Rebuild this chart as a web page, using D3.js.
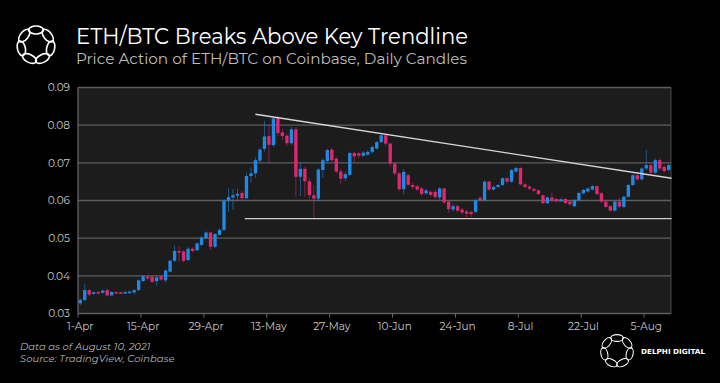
<!DOCTYPE html>
<html><head><meta charset="utf-8">
<script src="https://cdn.jsdelivr.net/npm/d3@7"></script>
<style>
html,body{margin:0;padding:0;background:#000;}
svg{display:block;}
</style></head>
<body>
<svg id="chart" width="720" height="383"></svg>
<script>
// ---------- DATA ----------
const startDate = "2021-04-01";
const endDate = "2021-08-10";
const opens = [0.0327,0.0336,0.0362,0.0352,0.0357,0.0355,0.0362,0.0348,0.0357,0.0356,0.0354,0.0355,0.0356,0.0362,0.0386,0.0398,0.0398,0.0386,0.0399,0.0388,0.0411,0.0440,0.0466,0.0465,0.0442,0.0472,0.0468,0.0482,0.0500,0.0515,
0.0477,0.0509,0.0522,0.0600,0.0608,0.0613,0.0620,0.0606,0.0665,0.0672,0.0706,0.0737,0.0771,0.0747,0.0820,0.0781,0.0772,0.0752,0.0789,0.0663,0.0684,0.0651,0.0614,0.0605,0.0681,0.0705,0.0735,0.0711,0.0677,0.0659,0.0668,
0.0726,0.0725,0.0719,0.0722,0.0729,0.0738,0.0755,0.0773,0.0751,0.0698,0.0672,0.0630,0.0667,0.0641,0.0638,0.0632,0.0619,0.0623,0.0623,0.0608,0.0632,0.0597,0.0576,0.0585,0.0576,0.0571,0.0569,0.0570,0.0607,0.0601,
0.0650,0.0629,0.0636,0.0641,0.0659,0.0650,0.0677,0.0686,0.0643,0.0637,0.0631,0.0627,0.0614,0.0593,0.0608,0.0604,0.0598,0.0604,0.0597,0.0585,0.0601,0.0619,0.0624,0.0629,0.0638,0.0619,0.0597,0.0585,0.0573,0.0597,0.0583,
0.0610,0.0641,0.0667,0.0656,0.0685,0.0694,0.0674,0.0707,0.0689,0.0681];
const closes = [0.0336,0.0362,0.0350,0.0356,0.0354,0.0361,0.0348,0.0357,0.0354,0.0354,0.0357,0.0358,0.0362,0.0388,0.0399,0.0393,0.0384,0.0396,0.0390,0.0414,0.0440,0.0466,0.0463,0.0440,0.0472,0.0466,0.0486,0.0502,0.0515,0.0477,
0.0511,0.0522,0.0600,0.0609,0.0614,0.0618,0.0606,0.0665,0.0672,0.0707,0.0735,0.0770,0.0748,0.0818,0.0779,0.0771,0.0752,0.0789,0.0663,0.0684,0.0651,0.0614,0.0605,0.0682,0.0707,0.0734,0.0707,0.0677,0.0658,0.0670,0.0726,
0.0717,0.0719,0.0727,0.0729,0.0742,0.0755,0.0773,0.0751,0.0698,0.0672,0.0630,0.0676,0.0642,0.0636,0.0629,0.0617,0.0627,0.0615,0.0609,0.0632,0.0595,0.0577,0.0585,0.0573,0.0568,0.0565,0.0564,0.0601,0.0601,0.0650,
0.0629,0.0636,0.0641,0.0659,0.0650,0.0681,0.0686,0.0643,0.0636,0.0631,0.0626,0.0617,0.0593,0.0608,0.0600,0.0598,0.0603,0.0593,0.0590,0.0601,0.0620,0.0628,0.0632,0.0638,0.0617,0.0597,0.0583,0.0573,0.0597,0.0584,0.0610,
0.0641,0.0667,0.0656,0.0685,0.0694,0.0674,0.0707,0.0685,0.0678,0.0694];
const highs = [0.0340,0.0378,0.0366,0.0359,0.0360,0.0364,0.0365,0.0359,0.0359,0.0358,0.0359,0.0361,0.0365,0.0391,0.0402,0.0401,0.0400,0.0400,0.0402,0.0417,0.0443,0.0481,0.0478,0.0468,0.0476,0.0476,0.0489,0.0505,0.0518,0.0518,
0.0514,0.0526,0.0604,0.0632,0.0630,0.0632,0.0625,0.0674,0.0688,0.0715,0.0740,0.0812,0.0800,0.0822,0.0825,0.0790,0.0778,0.0795,0.0795,0.0700,0.0690,0.0660,0.0640,0.0686,0.0712,0.0738,0.0740,0.0716,0.0684,0.0676,0.0730,
0.0730,0.0729,0.0731,0.0733,0.0746,0.0758,0.0778,0.0776,0.0753,0.0702,0.0676,0.0684,0.0672,0.0648,0.0642,0.0636,0.0631,0.0627,0.0628,0.0636,0.0635,0.0600,0.0592,0.0590,0.0580,0.0575,0.0573,0.0604,0.0612,0.0653,
0.0653,0.0640,0.0644,0.0662,0.0662,0.0684,0.0690,0.0688,0.0646,0.0640,0.0634,0.0630,0.0616,0.0611,0.0620,0.0607,0.0606,0.0607,0.0600,0.0604,0.0623,0.0631,0.0635,0.0641,0.0640,0.0622,0.0600,0.0588,0.0600,0.0606,0.0613,
0.0644,0.0670,0.0671,0.0688,0.0734,0.0700,0.0712,0.0712,0.0693,0.0698];
const lows = [0.0322,0.0333,0.0346,0.0350,0.0351,0.0353,0.0345,0.0346,0.0352,0.0352,0.0352,0.0353,0.0350,0.0360,0.0384,0.0389,0.0381,0.0373,0.0386,0.0383,0.0409,0.0436,0.0437,0.0436,0.0438,0.0462,0.0465,0.0479,0.0497,0.0470,
0.0474,0.0506,0.0518,0.0570,0.0575,0.0598,0.0600,0.0603,0.0648,0.0660,0.0700,0.0730,0.0700,0.0742,0.0770,0.0760,0.0745,0.0748,0.0610,0.0612,0.0610,0.0605,0.0553,0.0598,0.0660,0.0700,0.0702,0.0672,0.0645,0.0652,0.0665,
0.0700,0.0712,0.0716,0.0718,0.0724,0.0735,0.0752,0.0745,0.0690,0.0666,0.0625,0.0615,0.0638,0.0630,0.0625,0.0612,0.0615,0.0610,0.0604,0.0600,0.0590,0.0568,0.0570,0.0568,0.0562,0.0555,0.0556,0.0566,0.0598,0.0598,
0.0625,0.0626,0.0633,0.0638,0.0646,0.0647,0.0674,0.0640,0.0632,0.0628,0.0623,0.0614,0.0590,0.0590,0.0597,0.0595,0.0596,0.0590,0.0586,0.0582,0.0598,0.0616,0.0621,0.0626,0.0614,0.0593,0.0580,0.0570,0.0570,0.0580,0.0580,
0.0607,0.0638,0.0652,0.0653,0.0680,0.0670,0.0670,0.0680,0.0674,0.0677];
const yTicks = [0.03,0.04,0.05,0.06,0.07,0.08,0.09];
const xTickDates = ["2021-04-01","2021-04-15","2021-04-29","2021-05-13","2021-05-27","2021-06-10","2021-06-24","2021-07-08","2021-07-22","2021-08-05"];
const xTickLabels = ["1-Apr","15-Apr","29-Apr","13-May","27-May","10-Jun","24-Jun","8-Jul","22-Jul","5-Aug"];
const trendDates = ["2021-05-10","2021-08-10"];
const trendValues = [0.0829,0.0659];
const supportDates = ["2021-05-08","2021-08-10"];
const supportValues = [0.0552,0.0552];
const title = "ETH/BTC Breaks Above Key Trendline";
const subtitle = "Price Action of ETH/BTC on Coinbase, Daily Candles";
const notes = ["Data as of August 10, 2021","Source:  TradingView, Coinbase"];

// ---------- CHART ----------
const parse = d3.utcParse("%Y-%m-%d");
const days = d3.utcDay.range(parse(startDate), d3.utcDay.offset(parse(endDate),1));
const fmtKey = d3.utcFormat("%Y-%m-%d");
const keys = days.map(fmtKey);
const candles = keys.map((k,i)=>({k, o:opens[i], c:closes[i], h:highs[i], l:lows[i]}));

const svg = d3.select("#chart");
const W = 720, H = 383;
svg.append("rect").attr("width",W).attr("height",H).attr("fill","#000");

const m = {left:78, right:49, top:87.5, bottom:69.5};
const x = d3.scaleBand().domain(keys).range([m.left, W-m.right]).paddingInner(0.26).paddingOuter(0.13);
const y = d3.scaleLinear().domain([0.03,0.09]).range([H-m.bottom, m.top]);

const BLUE = "#1f8ae6", PINK = "#e0276f";

// plot background
svg.append("rect").attr("x",m.left).attr("y",m.top).attr("width",W-m.left-m.right).attr("height",H-m.top-m.bottom).attr("fill","#1c1c1c");

// gridlines
svg.append("g").selectAll("line").data(yTicks).join("line")
  .attr("x1",m.left).attr("x2",W-m.right)
  .attr("y1",d=>y(d)).attr("y2",d=>y(d))
  .attr("stroke","#5e5e5e").attr("stroke-width",1.3);

// plot borders left / right
svg.append("line").attr("x1",m.left).attr("x2",m.left).attr("y1",m.top).attr("y2",H-m.bottom).attr("stroke","#6a6a6a").attr("stroke-width",1.2);
svg.append("line").attr("x1",W-m.right).attr("x2",W-m.right).attr("y1",m.top).attr("y2",H-m.bottom).attr("stroke","#4a4a4a").attr("stroke-width",1);

// y labels
svg.append("g").selectAll("text").data(yTicks).join("text")
  .attr("x",m.left-8).attr("y",d=>y(d)).attr("dy","0.35em")
  .attr("text-anchor","end").attr("fill","#c8c8c8")
  .attr("font-family","Montserrat, Inter, 'Open Sans', sans-serif").attr("font-size",10.5)
  .text(d=>d3.format(".2f")(d));

// x axis ticks and labels
const xg = svg.append("g");
xg.selectAll("line").data(xTickDates).join("line")
  .attr("x1",d=>x(d)-0.5).attr("x2",d=>x(d)-0.5)
  .attr("y1",H-m.bottom).attr("y2",H-m.bottom+4)
  .attr("stroke","#6a6a6a");
xg.selectAll("text").data(xTickDates).join("text")
  .attr("x",d=>x(d)+x.bandwidth()/2).attr("y",H-m.bottom+16)
  .attr("text-anchor","middle").attr("fill","#c8c8c8")
  .attr("font-family","Montserrat, Inter, 'Open Sans', sans-serif").attr("font-size",10.5)
  .text((d,i)=>xTickLabels[i]);

// candles
const cg = svg.append("g");
const cx = d => x(d.k) + x.bandwidth()/2;
cg.selectAll("line.wick").data(candles).join("line").attr("class","wick")
  .attr("x1",cx).attr("x2",cx)
  .attr("y1",d=>y(d.h)).attr("y2",d=>y(d.l))
  .attr("stroke",d=>d.c>=d.o?BLUE:PINK).attr("stroke-opacity",0.55).attr("stroke-width",1);
cg.selectAll("rect.body").data(candles).join("rect").attr("class","body")
  .attr("x",d=>x(d.k)).attr("width",x.bandwidth())
  .attr("y",d=>y(Math.max(d.o,d.c)))
  .attr("height",d=>Math.max(1.5, Math.abs(y(d.o)-y(d.c))))
  .attr("fill",d=>d.c>=d.o?BLUE:PINK);

// trendline & support
const lineGen = d3.line().x(d=>d[0]).y(d=>d[1]);
const trendPts = trendDates.map((d,i)=>[i===0 ? x(d)+x.bandwidth()/2 : x(d)+x.step(), y(trendValues[i])]);
svg.append("path").attr("d",lineGen(trendPts)).attr("stroke","#d6d6d6").attr("stroke-width",1.4).attr("fill","none");
const supPts = supportDates.map((d,i)=>[i===0 ? x(d) : x(d)+x.step(), y(supportValues[i])]);
svg.append("path").attr("d",lineGen(supPts)).attr("stroke","#cfcfcf").attr("stroke-width",1.4).attr("fill","none");

// title / subtitle
svg.append("text").attr("x",76).attr("y",43.5).attr("fill","#ffffff")
  .attr("font-family","Montserrat, Inter, 'Open Sans', sans-serif").attr("font-size",21.5)
  .attr("textLength",392).attr("lengthAdjust","spacingAndGlyphs")
  .text(title);
svg.append("text").attr("x",76).attr("y",63.5).attr("fill","#bdbdbd")
  .attr("font-family","Montserrat, Inter, 'Open Sans', sans-serif").attr("font-size",15.5)
  .attr("textLength",391).attr("lengthAdjust","spacingAndGlyphs")
  .text(subtitle);

// logo helper
function logo(g, cxp, cyp, R, r1, r2, sw){
  const n = 7;
  for(let i=0;i<n;i++){
    const a = i*2*Math.PI/n - Math.PI/2;
    g.append("ellipse")
      .attr("cx", cxp + R*Math.cos(a)).attr("cy", cyp + R*Math.sin(a))
      .attr("rx", r1).attr("ry", r2)
      .attr("transform", `rotate(${a*180/Math.PI+90} ${cxp + R*Math.cos(a)} ${cyp + R*Math.sin(a)})`)
      .attr("fill","none").attr("stroke","#fff").attr("stroke-width",sw);
  }
}
logo(svg.append("g"), 36, 45, 15, 7.5, 4, 1.6);
logo(svg.append("g"), 617, 351, 13, 6.2, 3.4, 1.1);
svg.append("text").attr("x",641).attr("y",354).attr("fill","#ffffff")
  .attr("font-family","'DejaVu Sans', sans-serif").attr("font-size",7).attr("font-weight",700)
  .attr("textLength",64).attr("lengthAdjust","spacingAndGlyphs")
  .text("DELPHI DIGITAL");

// footer notes
svg.append("g").selectAll("text").data(notes).join("text")
  .attr("x",20).attr("y",(d,i)=>350+i*11.5)
  .attr("fill","#b8b8b8").attr("font-style","italic")
  .attr("font-family","Montserrat, 'Open Sans', sans-serif").attr("font-size",10)
  .text(d=>d);
</script>
</body></html>
